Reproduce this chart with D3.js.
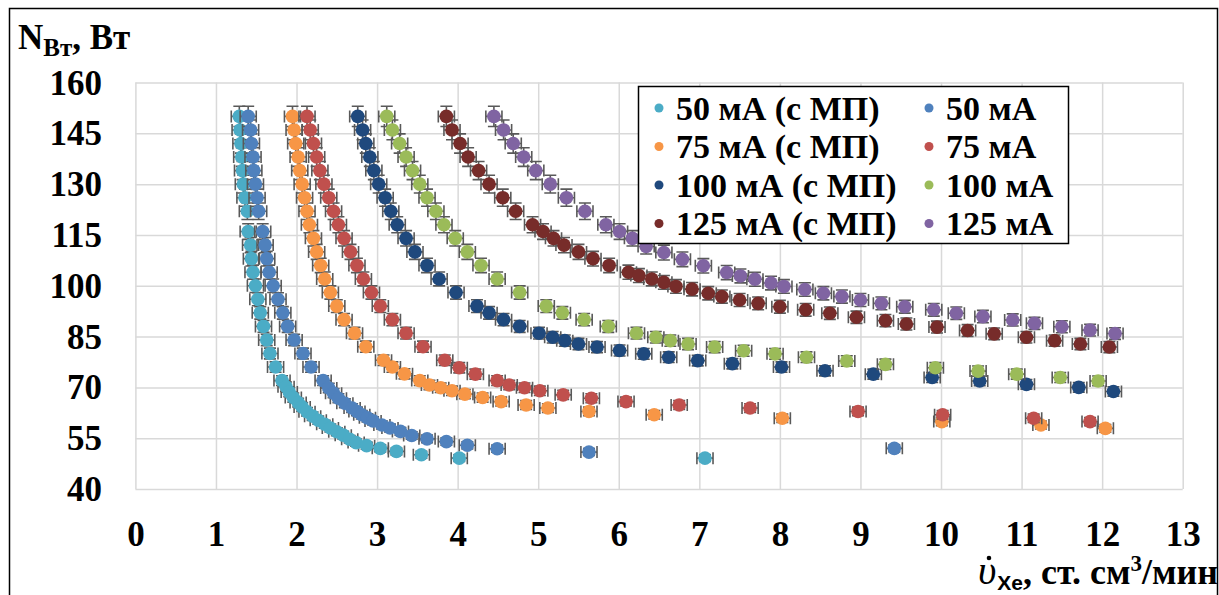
<!DOCTYPE html>
<html>
<head>
<meta charset="utf-8">
<script src="https://cdn.jsdelivr.net/npm/d3@7"></script>
<style>
  body { margin: 0; background: #fff; }
  text { font-family: "Liberation Serif", "Times New Roman", serif; font-weight: bold; fill: #000; }
</style>
</head>
<body>
<div id="chart"></div>
<script>
// flow rate (st. cm3/min) and discharge power (W)
const flow50mp = [1.29,1.30,1.31,1.32,1.33,1.34,1.36,1.39, 1.40,1.43,1.44,1.46,1.49,1.52,1.55,1.59,1.63,1.67,1.74,
  1.82,1.87,1.91,1.96,2.02,2.07,2.13,2.20,2.27,2.35,2.42,2.50,2.58,2.66,2.74, 2.87,3.04,3.24,3.55,4.02,7.07];
const power50mp = [150,146,142,138,134,130,126,122, 116,112,108,104,100,96,92,88,84,80,76,
  72,70.2,68.6,67,65.5,64.2,62.8,61.5,60.3,59.1,58,56.9,55.9,54.7,53.7, 52.8,52,51.1,50.1,49.1,49.1];

const flow50 = [1.40,1.43,1.44,1.46,1.47,1.49,1.51,1.53, 1.58,1.61,1.63,1.66,1.71,1.77,1.83,1.89,1.97,2.08,2.18,
  2.33,2.40,2.46,2.52,2.60,2.69,2.75,2.81,2.88,2.95,3.06,3.16,3.29,3.43,3.62,3.86,4.12,4.49,5.63,9.42];
const power50 = [150,146,142,138,134,130,126,122, 116,112,108,104,100,96,92,88,84,80,76,
  72,69.8,68.3,66.8,65.3,63.9,62.9,61.9,61.0,60.1,58.9,58,57,55.8,54.8,54,52.9,51.9,50.9,52];

const flow75mp = [1.95,1.97,1.99,2.02,2.04,2.07,2.10,2.13,2.16,2.21,2.25,2.30,2.35, 2.42,2.50,2.59,2.72,2.86,
  3.08,3.19,3.34,3.53,3.65,3.79,3.93,4.09,4.31,4.54,4.85,5.12,5.63,6.44,8.03,10.01,11.24,12.04];
const power75mp = [150,146,142,138,134,130,126,122,118,114,110,106,102, 98,94,90,86,82,
  78,76,74,72,70.7,69.9,69,68,67,65.8,64.8,63.9,62.9,61.9,60.9,59.9,58.9,57.9];

const flow75 = [2.13,2.17,2.21,2.25,2.29,2.34,2.40,2.46,2.52,2.59,2.67,2.75,2.83, 2.93,3.04,3.19,3.36,3.57,
  3.84,4.02,4.22,4.49,4.64,4.83,5.02,5.31,5.66,6.09,6.75,7.63,8.97,10.02,11.15,11.85];
const power75 = [150,146,142,138,134,130,126,122,118,114,110,106,102, 98,94,90,86,82,
  78,75.8,73.9,72,70.7,69.9,69,67.8,66.8,65.8,64.8,63.9,62.9,61.9,60.9,59.9];

const flow100mp = [2.76,2.82,2.86,2.91,2.96,3.02,3.10,3.17,3.25,3.36,3.47,3.62,3.77,
  3.98,4.24,4.39,4.57,4.77,5.01,5.18,5.33,5.50,5.73,6.01,6.31,6.62,6.98,7.41,8.02,8.56,9.16,9.89,10.48,11.06,11.71,12.14];
const power100mp = [150,146,142,138,134,130,126,122,118,114,110,106,102,
  98,94,92,90,88,86,84.8,83.8,82.8,81.9,80.9,79.9,78.9,77.9,77,76,74.9,73.9,72.9,71.9,70.9,70,68.8];

const flow100 = [3.12,3.19,3.28,3.36,3.44,3.53,3.62,3.73,3.83,3.97,4.12,4.29,4.49,
  4.77,5.10,5.30,5.57,5.87,6.22,6.46,6.64,6.86,7.19,7.55,7.94,8.33,8.83,9.31,9.93,10.46,10.94,11.48,11.95];
const power100 = [150,146,142,138,134,130,126,122,118,114,110,106,102,
  98,94,92,90,88,86,84.8,83.8,82.8,81.9,80.8,79.9,78.9,77.8,76.8,75.8,74.8,73.9,72.9,71.9];

const flow125mp = [3.86,3.93,4.03,4.13,4.26,4.39,4.56,4.72, 4.93,5.06,5.19,5.32,5.50,5.68,5.88,6.12,
  6.25,6.41,6.56,6.71,6.91,7.11,7.28,7.50, 7.73,8.00,8.32,8.62,8.95,9.31,9.57,9.95, 10.33,10.66,11.06,11.41,11.73,12.09];
const power125mp = [150,146,142,138,134,130,126,122, 118,116,114,112,110,108,106,104,
  103,102,101,99.8,99,97.8,96.8,95.8, 94.8,93.8,92.9,91.9,90.7,89.7,88.7,87.8, 86.8,85.8,84.8,83.8,82.8,81.9];

const flow125 = [4.45,4.57,4.69,4.82,4.97,5.15,5.35,5.58, 5.84,6.01,6.17,6.34,6.56,6.79,7.05,7.34,
  7.51,7.69,7.89,8.05,8.31,8.54,8.77,9.00, 9.26,9.55,9.91,10.19,10.52,10.89,11.16,11.50, 11.85,12.16];
const power125 = [150,146,142,138,134,130,126,122, 118,116,114,111.6,109.8,107.8,105.9,103.9,
  102.9,101.9,100.8,99.8,98.9,97.8,96.8,95.8, 94.8,93.8,92.9,91.9,90.9,89.9,88.9,87.9, 86.9,85.9];

const seriesNames = ['50 мА (с МП)', '50 мА', '75 мА (с МП)', '75 мА',
  '100 мА (с МП)', '100 мА', '125 мА (с МП)', '125 мА'];
const seriesColors = ['#4bacc6', '#4f81bd', '#f79646', '#c0504d',
  '#1f497d', '#9bbb59', '#772c2a', '#8064a2'];
const xTicks = d3.range(0, 14);
const yTicks = [40, 55, 70, 85, 100, 115, 130, 145, 160];
const xErr = 0.1;      // abs error of flow
const yErrRel = 0.02;  // relative error of power

const flows = [flow50mp, flow50, flow75mp, flow75, flow100mp, flow100, flow125mp, flow125];
const powers = [power50mp, power50, power75mp, power75, power100mp, power100, power125mp, power125];
const series = seriesNames.map((name, i) => ({
  name: name,
  color: seriesColors[i],
  points: flows[i].map((f, j) => ({ x: f, y: powers[i][j] }))
}));

const W = 1219, H = 595;
const svg = d3.select('#chart').append('svg')
  .attr('width', W).attr('height', H);

svg.append('rect').attr('width', W).attr('height', H).attr('fill', '#fff');
// chart border
svg.append('rect')
  .attr('x', 9.5).attr('y', 8.5).attr('width', 1208).attr('height', 620)
  .attr('fill', 'none').attr('stroke', '#000').attr('stroke-width', 1.5);

const x = d3.scaleLinear().domain([0, 13]).range([135.4, 1182.7]);
const y = d3.scaleLinear().domain([40, 160]).range([489, 82.5]);

// gridlines
const gridX = svg.append('g')
  .attr('transform', 'translate(0,' + y(40) + ')')
  .call(d3.axisBottom(x).tickValues(xTicks).tickSize(-(y(40) - y(160))).tickFormat(''));
const gridY = svg.append('g')
  .attr('transform', 'translate(' + x(0) + ',0)')
  .call(d3.axisLeft(y).tickValues(yTicks).tickSize(-(x(13) - x(0))).tickFormat(''));
[gridX, gridY].forEach(g => {
  g.select('.domain').remove();
  g.selectAll('line').attr('stroke', '#d9d9d9').attr('stroke-width', 1.5);
});

// tick labels
const xAxis = svg.append('g')
  .attr('transform', 'translate(0,546)')
  .call(d3.axisBottom(x).tickValues(xTicks).tickSize(0).tickPadding(0));
xAxis.select('.domain').remove();
xAxis.selectAll('text').attr('y', 0).attr('dy', null)
  .style('font-size', '35px').style('font-family', 'Liberation Serif').style('font-weight', 'bold').attr('fill', '#000');

const yAxis = svg.append('g')
  .attr('transform', 'translate(102,0)')
  .call(d3.axisLeft(y).tickValues(yTicks).tickSize(0).tickPadding(0));
yAxis.select('.domain').remove();
yAxis.selectAll('text').attr('x', 0).attr('dy', '0.33em')
  .style('font-size', '35px').style('font-family', 'Liberation Serif').style('font-weight', 'bold').attr('fill', '#000');

// series with error bars
const cap = 6;
series.forEach(s => {
  const g = svg.append('g');
  const eb = g.append('g').attr('stroke', '#595959').attr('stroke-width', 1.6).attr('fill', 'none');
  s.points.forEach(p => {
    const cx = x(p.x), cy = y(p.y);
    const x0 = x(p.x - xErr), x1 = x(p.x + xErr);
    const y0 = y(p.y * (1 - yErrRel)), y1 = y(p.y * (1 + yErrRel));
    eb.append('path').attr('d',
      'M' + x0 + ',' + cy + 'H' + x1 +
      'M' + x0 + ',' + (cy - cap) + 'V' + (cy + cap) +
      'M' + x1 + ',' + (cy - cap) + 'V' + (cy + cap) +
      'M' + cx + ',' + y0 + 'V' + y1 +
      'M' + (cx - cap) + ',' + y0 + 'H' + (cx + cap) +
      'M' + (cx - cap) + ',' + y1 + 'H' + (cx + cap));
  });
  g.selectAll('circle')
    .data(s.points)
    .enter().append('circle')
    .attr('cx', d => x(d.x))
    .attr('cy', d => y(d.y))
    .attr('r', 6.8)
    .attr('fill', s.color);
});

// legend
const legend = svg.append('g');
legend.append('rect')
  .attr('x', 638.5).attr('y', 86.5).attr('width', 430).attr('height', 157)
  .attr('fill', '#fff').attr('stroke', '#000').attr('stroke-width', 1.5);
series.forEach((s, i) => {
  const col = i % 2, row = Math.floor(i / 2);
  const lx = col === 0 ? 659 : 929;
  const ly = 108 + row * 38.5;
  legend.append('circle').attr('cx', lx).attr('cy', ly).attr('r', 4.5).attr('fill', s.color);
  legend.append('text').attr('x', lx + 17).attr('y', ly).attr('dy', '0.35em')
    .style('font-size', '34px').text(s.name);
});

// axis titles
const yTitle = svg.append('text').attr('x', 18).attr('y', 49).style('font-size', '35px');
yTitle.append('tspan').text('N');
yTitle.append('tspan').attr('dy', 7).style('font-size', '25px').text('Вт');
yTitle.append('tspan').attr('dy', -7).text(', Вт');

const titleBase = 584;
const xTitle = svg.append('text').attr('x', 1218).attr('y', titleBase).attr('text-anchor', 'end')
  .style('font-size', '36px');
xTitle.append('tspan').style('font-style', 'italic').style('font-weight', 'normal')
  .style('font-size', '40px').text('υ');
xTitle.append('tspan').attr('dx', 1).attr('dy', 6).style('font-size', '21px')
  .style('font-family', 'Liberation Sans').text('Xe');
xTitle.append('tspan').attr('dy', -6).text(', ст. см');
xTitle.append('tspan').attr('dy', -13).style('font-size', '23px').text('3');
xTitle.append('tspan').attr('dy', 13).text('/мин');
// dot over the upsilon (flow rate)
const ub = xTitle.node().getExtentOfChar(0);
svg.append('circle')
  .attr('cx', ub.x + ub.width * 0.6).attr('cy', titleBase - 26)
  .attr('r', 2.3).attr('fill', '#000');
</script>
</body>
</html>
